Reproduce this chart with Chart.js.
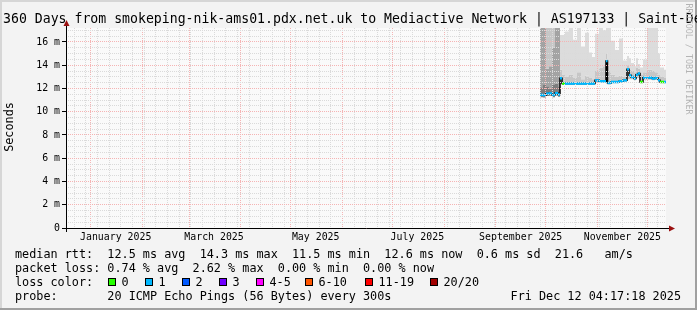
<!DOCTYPE html>
<html>
<head>
<meta charset="utf-8">
<title>Smokeping 360 Days</title>
<script src="https://cdn.jsdelivr.net/npm/chart.js@4/dist/chart.umd.min.js"></script>
<style>
  html, body { margin: 0; padding: 0; background: #f3f3f3; overflow: hidden; }
  canvas { display: block; }
</style>
</head>
<body>
<canvas id="smoke" width="697" height="310"></canvas>
<script>
// Dados (dias desde o início do gráfico, 17 dez 2024 04:17:18)
const sampleDays = [284.4, 286.2, 288.0, 289.8, 291.6, 293.4, 295.2, 296.4, 297.6, 299.4,
  301.8, 304.2, 306.6, 309.0, 311.4, 313.8, 315.6, 317.4, 319.8, 322.2,
  324.0, 324.9, 327.0, 329.4, 331.8, 334.2, 336.6, 337.8, 339.0, 340.8,
  342.0, 343.2, 344.4, 346.2, 348.6, 351.6, 353.4, 355.2, 356.4, 358.8];

// mediana (ms)
const medianMs = [11.45, 11.42, 11.56, 11.58, 11.45, 11.60, 11.48, 12.88, 12.42, 12.42,
  12.42, 12.42, 12.42, 12.42, 12.42, 12.42, 12.42, 12.70, 12.62, 12.62,
  14.36, 12.48, 12.56, 12.56, 12.62, 12.70, 13.65, 13.13, 12.99, 12.85,
  13.19, 13.28, 12.56, 12.93, 12.93, 12.85, 12.90, 12.70, 12.56, 12.56];

// índice da cor de perda (0 = sem perda, 1 = ~1 ping)
const lossBucket = [1, 1, 1, 1, 1, 1, 1, 1, 0, 1,
  1, 1, 1, 1, 1, 1, 1, 1, 1, 1,
  1, 1, 1, 1, 1, 1, 1, 1, 1, 1,
  1, 1, 0, 1, 1, 1, 1, 1, 0, 1];

// "fumaça": limites das faixas de cinza (ms)
const smokeLow = [11.25, 11.22, 11.35, 11.38, 11.25, 11.40, 11.28, 12.40, 12.30, 12.30,
  12.30, 12.30, 12.30, 12.30, 12.30, 12.30, 12.30, 12.55, 12.50, 12.50,
  12.50, 12.35, 12.45, 12.45, 12.50, 12.55, 12.80, 12.80, 12.80, 12.70,
  12.90, 12.90, 12.45, 12.75, 12.75, 12.70, 12.75, 12.55, 12.45, 12.45];
const smokeCore = [12.10, 12.30, 12.20, 12.00, 12.30, 12.40, 12.20, 12.40, 12.30, 12.30,
  12.30, 12.30, 12.30, 12.30, 12.30, 12.30, 12.30, 12.55, 12.50, 12.50,
  12.50, 12.35, 12.45, 12.45, 12.50, 12.55, 12.80, 12.80, 12.80, 12.70,
  12.90, 12.90, 12.45, 12.75, 12.75, 12.70, 12.75, 12.55, 12.45, 12.45];
const smokeInner = [17.2, 17.2, 13.7, 13.9, 15.5, 17.2, 17.2, 12.40, 12.30, 12.30,
  12.30, 12.30, 12.30, 12.30, 12.30, 12.30, 12.30, 12.55, 12.50, 12.50,
  12.50, 12.35, 12.45, 12.45, 12.50, 12.55, 12.80, 12.80, 12.80, 12.70,
  12.90, 12.90, 12.45, 12.75, 12.75, 12.70, 12.75, 12.55, 12.45, 12.45];
const smokeMid = [17.2, 17.2, 17.2, 17.2, 17.2, 17.2, 17.2, 13.6, 13.2, 13.0,
  13.2, 12.9, 13.4, 12.8, 13.1, 12.9, 12.8, 13.5, 13.8, 13.9,
  15.0, 13.5, 13.2, 13.0, 13.1, 13.0, 14.0, 13.6, 13.5, 13.4,
  13.8, 13.7, 13.2, 13.4, 13.6, 13.5, 13.4, 13.2, 13.0, 12.9];
const smokeHigh = [17.2, 17.2, 17.2, 17.2, 17.2, 17.2, 17.2, 16.6, 16.6, 16.9,
  17.2, 16.2, 17.2, 15.6, 16.8, 15.1, 14.7, 16.7, 17.2, 17.0,
  17.2, 17.2, 16.1, 15.3, 16.3, 14.4, 14.8, 14.6, 14.2, 13.9,
  14.6, 14.1, 13.8, 14.5, 17.2, 17.2, 17.2, 15.0, 13.8, 13.6];

const monthNames = ["January", "February", "March", "April", "May", "June", "July",
  "August", "September", "October", "November", "December"];
const labelMonths = [0, 2, 4, 6, 8, 10];

const lossNames = ["0", "1", "2", "3", "4-5", "6-10", "11-19", "20/20"];
const lossColors = ["#26ff00", "#00b8ff", "#0059ff", "#7000ff", "#ff00ff", "#ff5500", "#ff0000", "#a10000"];

const titleText = "360 Days from smokeping-nik-ams01.pdx.net.uk to Mediactive Network | AS197133 | Saint-Denis";
const rttLine = "median rtt:  12.5 ms avg  14.3 ms max  11.5 ms min  12.6 ms now  0.6 ms sd  21.6   am/s";
const lossLine = "packet loss: 0.74 % avg  2.62 % max  0.00 % min  0.00 % now";
const probeLine = "probe:       20 ICMP Echo Pings (56 Bytes) every 300s";
const stampText = "Fri Dec 12 04:17:18 2025";

const spanDays = 360;
const yMax = 17.2;
const mono = '"DejaVu Sans Mono", monospace';

// início do gráfico em UTC
const startMs = Date.UTC(2024, 11, 17, 4, 17, 18);
const dayOf = (y, m, d) => (Date.UTC(y, m, d) - startMs) / 864e5;

// ticks do eixo x: semanas (domingo), inícios de mês e rótulos no meio do mês
const xTicks = [];
for (let d = dayOf(2024, 11, 22); d <= spanDays; d += 7) xTicks.push({ value: d, kind: "week" });
for (let m = 0; m < 12; m++) xTicks.push({ value: dayOf(2025, m, 1), kind: "month" });
labelMonths.forEach((m) => xTicks.push({ value: dayOf(2025, m, 16), kind: "label", text: monthNames[m] + " 2025" }));
xTicks.sort((a, b) => a.value - b.value);

const stepped = (arr) => sampleDays.map((d, i) => ({ x: d, y: arr[i] }))
  .concat([{ x: spanDays, y: arr[arr.length - 1] }]);

// segmentos horizontais da mediana, coloridos pela perda
const lossSegments = [];
sampleDays.forEach((d, i) => {
  const end = i + 1 < sampleDays.length ? sampleDays[i + 1] : spanDays;
  lossSegments.push({ x: d, y: medianMs[i] }, { x: end, y: medianMs[i] }, { x: end, y: null });
});

const smokeSet = (data, color, order) => ({
  data: stepped(data), stepped: true, borderWidth: 0, pointRadius: 0,
  backgroundColor: color, fill: "-1", order: order,
});

const majorGrid = "#f5b4b4";
const minorGrid = "#dadada";

const frame = {
  id: "frame",
  beforeDraw(chart) {
    const { ctx, width, height, chartArea: a } = chart;
    ctx.save();
    ctx.fillStyle = "#f3f3f3";
    ctx.fillRect(0, 0, width, height);
    ctx.fillStyle = "#d6d6d6";
    ctx.fillRect(0, 0, width, 2);
    ctx.fillRect(0, 0, 2, height);
    ctx.fillStyle = "#a0a0a0";
    ctx.fillRect(0, height - 2, width, 2);
    ctx.fillRect(width - 2, 0, 2, height);
    ctx.fillStyle = "#fafafa";
    ctx.fillRect(a.left, a.top, a.right - a.left, a.bottom - a.top);
    ctx.restore();
  },
  afterDraw(chart) {
    const { ctx, chartArea: a } = chart;
    ctx.save();
    // eixos
    ctx.strokeStyle = "#000";
    ctx.lineWidth = 1;
    ctx.beginPath();
    ctx.moveTo(a.left - 4, a.bottom + 0.5);
    ctx.lineTo(a.right + 5, a.bottom + 0.5);
    ctx.moveTo(a.left + 0.5, a.bottom + 4);
    ctx.lineTo(a.left + 0.5, a.top - 4);
    ctx.stroke();
    ctx.fillStyle = "#9a1010";
    ctx.beginPath();
    ctx.moveTo(a.right + 9, a.bottom + 0.5);
    ctx.lineTo(a.right + 3, a.bottom - 2.5);
    ctx.lineTo(a.right + 3, a.bottom + 3.5);
    ctx.closePath();
    ctx.fill();
    ctx.beginPath();
    ctx.moveTo(a.left + 0.5, a.top - 8);
    ctx.lineTo(a.left - 2.5, a.top - 2);
    ctx.lineTo(a.left + 3.5, a.top - 2);
    ctx.closePath();
    ctx.fill();

    // textos
    ctx.fillStyle = "#000";
    ctx.textBaseline = "middle";
    ctx.textAlign = "left";
    ctx.font = "13.2px " + mono;
    ctx.fillText(titleText, 3, 19.5);
    ctx.font = "11.8px " + mono;
    ctx.fillText(rttLine, 15, 254.5);
    ctx.fillText(lossLine, 15, 268.5);
    ctx.fillText("loss color:", 15, 282.5);
    ctx.fillText(probeLine, 15, 296.5);
    ctx.textAlign = "right";
    ctx.fillText(stampText, 681, 296.5);

    const boxX = [108.5, 145.5, 182.5, 219.5, 256.5, 305.5, 365.5, 430.5];
    ctx.textAlign = "left";
    lossNames.forEach((name, i) => {
      ctx.fillStyle = lossColors[i];
      ctx.fillRect(boxX[i], 278.5, 7, 7);
      ctx.strokeStyle = "#000";
      ctx.strokeRect(boxX[i], 278.5, 7, 7);
      ctx.fillStyle = "#000";
      ctx.fillText(name, boxX[i] + 13, 282.5);
    });

    // título do eixo y
    ctx.save();
    ctx.translate(10, 127);
    ctx.rotate(-Math.PI / 2);
    ctx.textAlign = "center";
    ctx.fillText("Seconds", 0, 0);
    ctx.restore();

    // marca d'água
    ctx.save();
    ctx.translate(688, 59);
    ctx.rotate(Math.PI / 2);
    ctx.textAlign = "center";
    ctx.fillStyle = "#b4b4b4";
    ctx.font = "8.4px " + mono;
    ctx.fillText("RRDTOOL / TOBI OETIKER", 0, 0);
    ctx.restore();
    ctx.restore();
  },
};

Chart.defaults.font.family = mono;
Chart.defaults.color = "#000";

new Chart(document.getElementById("smoke"), {
  type: "line",
  data: {
    datasets: [
      { data: stepped(smokeLow), stepped: true, borderWidth: 0, pointRadius: 0, fill: false, order: 10 },
      smokeSet(smokeCore, "#7d7d7d", 9),
      smokeSet(smokeInner, "#a3a3a3", 8),
      smokeSet(smokeMid, "#c6c6c6", 7),
      smokeSet(smokeHigh, "#dcdcdc", 6),
      {
        data: stepped(medianMs), stepped: true, borderColor: "#000", borderWidth: 1.5,
        pointRadius: 0, fill: false, order: 2,
      },
      {
        data: lossSegments, borderColor: lossColors[1], borderWidth: 2.5, pointRadius: 0,
        fill: false, order: 1, spanGaps: false, borderCapStyle: "butt",
        segment: { borderColor: (c) => lossColors[lossBucket[Math.floor(c.p0DataIndex / 3)]] },
      },
    ],
  },
  options: {
    responsive: false,
    animation: false,
    devicePixelRatio: 1,
    layout: { padding: { left: 0, top: 28, right: 31, bottom: 0 } },
    plugins: { legend: { display: false }, tooltip: { enabled: false } },
    scales: {
      x: {
        type: "linear",
        min: 0,
        max: spanDays,
        bounds: "data",
        afterBuildTicks: (s) => { s.ticks = xTicks.map((t) => ({ ...t })); },
        afterFit: (s) => { s.height = 82; },
        border: { display: false, dash: [1, 1] },
        grid: {
          z: 1,
          drawTicks: false,
          color: (c) => {
            if (!c.tick) return "transparent";
            if (c.tick.kind === "month") return majorGrid;
            if (c.tick.kind === "week") return minorGrid;
            return "transparent";
          },
        },
        ticks: {
          autoSkip: false,
          maxRotation: 0,
          minRotation: 0,
          padding: 3.4,
          font: { size: 9.9 },
          callback: (v, i, ticks) => ticks[i].text || "",
        },
      },
      y: {
        type: "linear",
        min: 0,
        max: yMax,
        bounds: "data",
        afterBuildTicks: (s) => {
          s.ticks = [];
          for (let v = 0; v <= 17; v += 0.5) s.ticks.push({ value: v });
        },
        afterFit: (s) => { s.width = 66; },
        border: { display: false, dash: [1, 1] },
        grid: {
          z: 1,
          tickLength: 4,
          color: (c) => (c.tick && c.tick.value % 2 === 0 ? majorGrid : minorGrid),
          tickColor: (c) => (c.tick && c.tick.value % 2 === 0 ? "#000" : "transparent"),
        },
        ticks: {
          autoSkip: false,
          padding: 2,
          font: { size: 9.9 },
          callback: (v) => (v % 2 === 0 ? (v === 0 ? "0" : v + " m") : ""),
        },
      },
    },
  },
  plugins: [frame],
});
</script>
</body>
</html>
